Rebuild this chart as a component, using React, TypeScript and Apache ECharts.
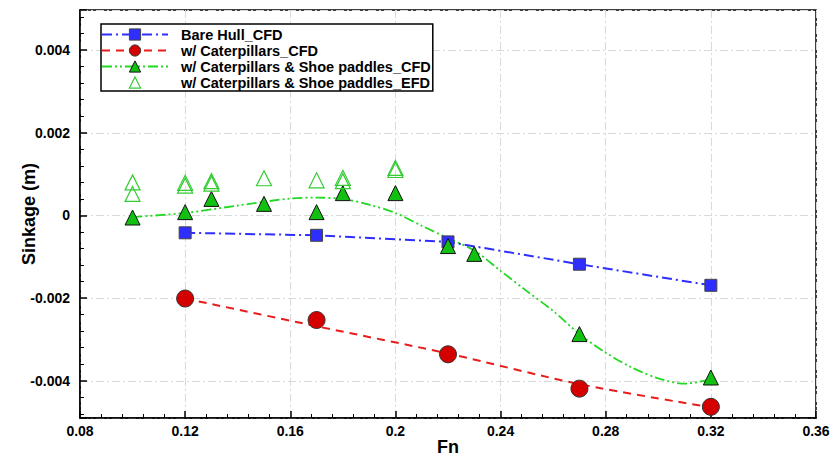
import React, { useEffect, useRef } from "react";
import * as echarts from "echarts";

// ---- Data ----
const fnBareHull = [0.12, 0.17, 0.22, 0.27, 0.32];
const sinkBareHull = [-0.00042, -0.00048, -0.00064, -0.00118, -0.00169];

const fnCaterpillars = [0.12, 0.17, 0.22, 0.27, 0.32];
const sinkCaterpillars = [-0.00201, -0.00253, -0.00336, -0.00419, -0.00463];
// fitted (trend) curve drawn for the caterpillars case
const fnCaterpillarsFit = [0.12, 0.17, 0.22, 0.27, 0.32];
const sinkCaterpillarsFit = [-0.00201, -0.00268, -0.00334, -0.00408, -0.00464];

const fnShoeCfd = [0.1, 0.12, 0.13, 0.15, 0.17, 0.18, 0.2, 0.22, 0.23, 0.27, 0.32];
const sinkShoeCfd = [-0.00005, 0.00008, 0.0004, 0.00028, 0.00008, 0.00054, 0.00054, -0.00074, -0.00093, -0.00287, -0.00392];
// fitted (trend) curve drawn for the shoe paddles case
const fnShoeFit = [0.1, 0.12, 0.14, 0.16, 0.17, 0.18, 0.19, 0.2, 0.21, 0.22, 0.23, 0.24, 0.25, 0.26, 0.27, 0.28, 0.29, 0.3, 0.31, 0.32];
const sinkShoeFit = [-0.00004, 0.00006, 0.00024, 0.00041, 0.00043, 0.0004, 0.00026, 0.00006, -0.00025, -0.00055, -0.00085, -0.00134, -0.00183, -0.00231, -0.00287, -0.00332, -0.00368, -0.00394, -0.00407, -0.00396];

const fnShoeEfd = [0.1, 0.1, 0.12, 0.12, 0.13, 0.13, 0.15, 0.17, 0.18, 0.18, 0.2, 0.2];
const sinkShoeEfd = [0.0008, 0.00052, 0.00079, 0.00072, 0.00083, 0.00077, 0.0009, 0.00085, 0.00091, 0.00083, 0.00115, 0.0011];

const seriesNames = [
  "Bare Hull_CFD",
  "w/ Caterpillars_CFD",
  "w/ Caterpillars & Shoe paddles_CFD",
  "w/ Caterpillars & Shoe paddles_EFD",
];

const zip = (xs: number[], ys: number[]) => xs.map((x, i) => [x, ys[i]]);

const FONT = "'Liberation Sans', Arial, sans-serif";
const BLUE = "#2e2eff";
const RED_FILL = "#d40000";
const RED_LINE = "#e81c1c";
const GREEN_FILL = "#12c012";
const GREEN_LINE = "#22d822";
const GREEN_EFD = "#33cc33";

const dashDot = [10, 4, 2, 4];
const dashed = [8, 6];
const dashDotDot = [10, 3, 2, 3, 2, 3];

export default function App() {
  const ref = useRef<HTMLDivElement>(null);
  useEffect(() => {
    if (!ref.current) return;
    const chart = echarts.init(ref.current, null, { renderer: "svg" });
    const axisCommon = {
      axisLine: { show: true, onZero: false, lineStyle: { color: "#000", width: 1.5 } },
      axisTick: { show: true, inside: true, length: 7, lineStyle: { color: "#000", width: 1.5 } },
      minorTick: { show: true, splitNumber: 5, length: 4, lineStyle: { color: "#000", width: 1 } },
      splitLine: { show: true, lineStyle: { color: "#d9d9d9", width: 1, type: [8, 3, 2, 3] } },
      nameTextStyle: { color: "#000", fontSize: 18, fontWeight: "bold", fontFamily: FONT },
      nameMoveOverlap: false,
    };
    chart.setOption({
      animation: false,
      backgroundColor: "#fff",
      grid: {
        left: 80,
        right: 17,
        top: 10,
        bottom: 45,
        show: true,
        borderColor: "#000",
        borderWidth: 1.5,
        backgroundColor: "transparent",
      },
      legend: {
        orient: "vertical",
        left: 101,
        top: 24,
        itemWidth: 66,
        itemHeight: 14,
        itemGap: 1,
        padding: [3, 2, 1, 0],
        backgroundColor: "#fff",
        borderColor: "#000",
        borderWidth: 1.5,
        selectedMode: false,
        z: 10,
        textStyle: {
          color: "#000",
          fontSize: 14.5,
          fontWeight: "bold",
          fontFamily: FONT,
          lineHeight: 15,
          padding: [0, 0, 0, 8],
        },
        data: [
          {
            name: seriesNames[0],
            lineStyle: { color: BLUE, width: 2, type: dashDot, opacity: 1 },
            itemStyle: { color: BLUE, borderColor: "#444", borderWidth: 1 },
          },
          {
            name: seriesNames[1],
            lineStyle: { color: RED_LINE, width: 2, type: dashed, opacity: 1 },
            itemStyle: { color: RED_FILL, borderColor: "#333", borderWidth: 1 },
          },
          {
            name: seriesNames[2],
            lineStyle: { color: GREEN_LINE, width: 2, type: dashDotDot, opacity: 1 },
            itemStyle: { color: GREEN_FILL, borderColor: "#111", borderWidth: 1 },
          },
          {
            name: seriesNames[3],
            lineStyle: { opacity: 0, width: 0 },
            itemStyle: { color: "rgba(255,255,255,0)", borderColor: GREEN_EFD, borderWidth: 1.2 },
          },
        ],
      },
      xAxis: {
        type: "value",
        min: 0.08,
        max: 0.36,
        interval: 0.04,
        name: "Fn",
        nameLocation: "middle",
        nameGap: 20,
        ...axisCommon,
        axisLabel: {
          color: "#000",
          fontSize: 14,
          fontWeight: "bold",
          fontFamily: FONT,
          margin: 6,
          formatter: (v: number) => String(Math.round(v * 100) / 100),
        },
      },
      yAxis: {
        type: "value",
        min: -0.0049,
        max: 0.00497,
        splitNumber: 5,
        name: "Sinkage (m)",
        nameLocation: "middle",
        nameGap: 42,
        ...axisCommon,
        axisLabel: {
          color: "#000",
          fontSize: 14,
          fontWeight: "bold",
          fontFamily: FONT,
          margin: 10,
          showMinLabel: false,
          showMaxLabel: false,
          formatter: (v: number) => {
            const r = Math.round(v * 1000) / 1000;
            if (Math.abs(v - r) > 1e-8) return "";
            return r === 0 ? "0" : String(r);
          },
        },
      },
      series: [
        {
          name: seriesNames[0],
          type: "line",
          data: zip(fnBareHull, sinkBareHull),
          symbol: "rect",
          symbolSize: 12,
          itemStyle: { color: BLUE, borderColor: "#444", borderWidth: 1 },
          lineStyle: { color: BLUE, width: 2, type: dashDot },
          z: 4,
        },
        {
          name: "caterpillarsFit",
          type: "line",
          data: zip(fnCaterpillarsFit, sinkCaterpillarsFit),
          symbol: "none",
          smooth: 0.3,
          lineStyle: { color: RED_LINE, width: 2, type: dashed },
          z: 2,
        },
        {
          name: seriesNames[1],
          type: "line",
          data: zip(fnCaterpillars, sinkCaterpillars),
          symbol: "circle",
          symbolSize: 17,
          itemStyle: { color: RED_FILL, borderColor: "#333", borderWidth: 1 },
          lineStyle: { opacity: 0, width: 0 },
          z: 5,
        },
        {
          name: "shoeFit",
          type: "line",
          data: zip(fnShoeFit, sinkShoeFit),
          symbol: "none",
          smooth: 0.3,
          lineStyle: { color: GREEN_LINE, width: 1.8, type: dashDotDot },
          z: 2,
        },
        {
          name: seriesNames[2],
          type: "line",
          data: zip(fnShoeCfd, sinkShoeCfd),
          symbol: "triangle",
          symbolSize: 15,
          itemStyle: { color: GREEN_FILL, borderColor: "#111", borderWidth: 1 },
          lineStyle: { opacity: 0, width: 0 },
          z: 5,
        },
        {
          name: seriesNames[3],
          type: "line",
          data: zip(fnShoeEfd, sinkShoeEfd),
          symbol: "triangle",
          symbolSize: 15,
          itemStyle: { color: "rgba(255,255,255,0)", borderColor: GREEN_EFD, borderWidth: 1.2 },
          lineStyle: { opacity: 0, width: 0 },
          z: 5,
        },
      ],
    });
    return () => chart.dispose();
  }, []);
  return (
    <div
      ref={ref}
      style={{ position: "absolute", left: 0, top: 0, width: 833, height: 463, background: "#fff" }}
    />
  );
}
